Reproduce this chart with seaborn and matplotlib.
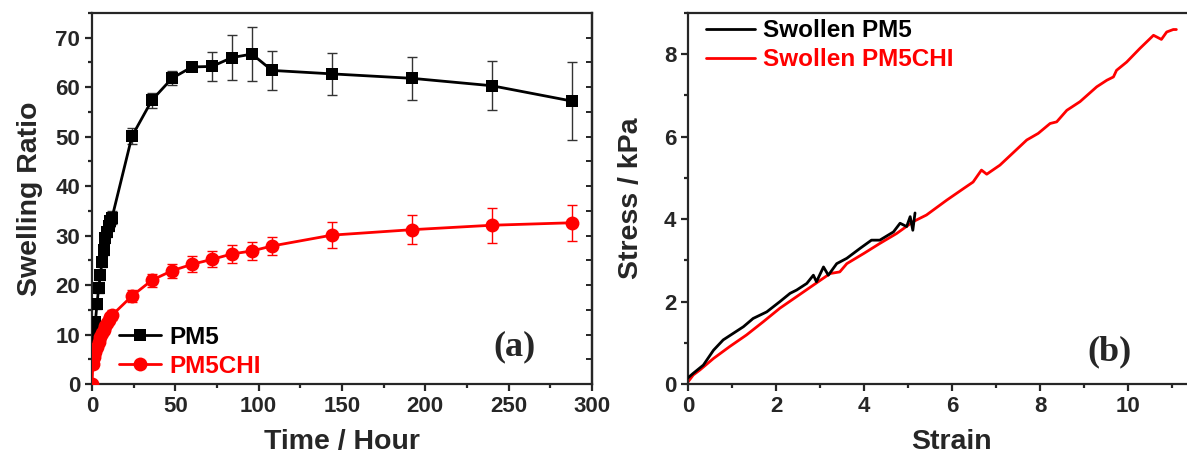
import numpy as np
import pandas as pd
import matplotlib
matplotlib.use("Agg")
import matplotlib.pyplot as plt
from matplotlib.ticker import MultipleLocator, NullFormatter
import seaborn as sns

# (a) swelling ratio vs time
pm5_time = [0.5, 1, 2, 3, 4, 5, 6, 7, 8, 9, 10, 11, 12,
            24, 36, 48, 60, 72, 84, 96, 108, 144, 192, 240, 288]
pm5_ratio = [8.0, 10.5, 12.5, 16.2, 19.4, 22.0, 24.6, 27.0, 29.5, 30.8, 32.0, 33.0, 33.6,
             50.1, 57.4, 61.8, 64.1, 64.2, 66.0, 66.7, 63.4, 62.7, 61.8, 60.3, 57.2]
pm5_err = [1.0, 1.0, 1.0, 1.0, 1.0, 1.0, 1.0, 1.0, 1.0, 1.0, 1.0, 1.2, 1.3,
           1.6, 1.5, 1.4, 0.6, 2.9, 4.5, 5.5, 4.0, 4.3, 4.4, 5.0, 7.8]

chi_time = [0, 0.5, 1, 2, 3, 4, 5, 6, 7, 8, 9, 10, 11, 12,
            24, 36, 48, 60, 72, 84, 96, 108, 144, 192, 240, 288]
chi_ratio = [0.0, 4.0, 5.5, 6.5, 7.5, 8.5, 9.5, 10.3, 11.0, 11.7, 12.3, 13.0, 13.5, 13.9,
             17.8, 21.0, 22.9, 24.2, 25.2, 26.3, 26.9, 27.9, 30.1, 31.2, 32.1, 32.6]
chi_err = [0.3, 0.8, 0.8, 0.8, 0.8, 0.8, 0.8, 0.8, 0.8, 0.8, 0.8, 0.9, 0.9, 1.0,
           1.3, 1.3, 1.4, 1.6, 1.6, 1.8, 1.8, 1.8, 2.7, 2.9, 3.5, 3.6]

# (b) stress-strain curves
pm5_strain = [0.0, 0.12, 0.35, 0.58, 0.80, 1.03, 1.26, 1.48, 1.79, 2.09, 2.32, 2.47,
              2.70, 2.85, 2.92, 3.08, 3.19, 3.38, 3.61, 3.91, 4.17, 4.36, 4.67, 4.82,
              4.97, 5.05, 5.11, 5.16]
pm5_stress = [0.15, 0.26, 0.46, 0.82, 1.07, 1.23, 1.39, 1.59, 1.75, 2.00, 2.20, 2.28,
              2.44, 2.64, 2.48, 2.84, 2.64, 2.92, 3.05, 3.29, 3.49, 3.49, 3.69, 3.90,
              3.82, 4.06, 3.73, 4.15]

chi_strain = [0.0, 0.12, 0.27, 0.58, 0.95, 1.33, 1.71, 2.09, 2.47, 2.85, 3.23, 3.45,
              3.61, 4.00, 4.36, 4.74, 5.12, 5.42, 5.88, 6.26, 6.48, 6.67, 6.79, 7.09,
              7.39, 7.70, 7.96, 8.23, 8.38, 8.61, 8.91, 9.29, 9.52, 9.67, 9.74, 9.97,
              10.27, 10.58, 10.76, 10.88, 11.03, 11.10]
chi_stress = [0.05, 0.22, 0.34, 0.62, 0.91, 1.19, 1.51, 1.84, 2.12, 2.40, 2.68, 2.72,
              2.92, 3.17, 3.41, 3.65, 3.94, 4.10, 4.46, 4.74, 4.90, 5.19, 5.09, 5.31,
              5.61, 5.92, 6.08, 6.32, 6.36, 6.64, 6.85, 7.21, 7.37, 7.45, 7.61, 7.81,
              8.14, 8.46, 8.36, 8.54, 8.60, 8.60]

sns.set_style("ticks")
plt.rcParams['font.family'] = ['Liberation Sans', 'DejaVu Sans']
plt.rcParams['font.weight'] = 'bold'
plt.rcParams['axes.labelweight'] = 'bold'

fig = plt.figure(figsize=(11.87, 4.62), dpi=100)
ax1 = fig.add_axes([0.0775, 0.1688, 0.4212, 0.803])
# right panel runs past the figure edge, as in the original figure
ax2 = fig.add_axes([0.5796, 0.1688, 0.4448, 0.803])

red = '#ff0000'

# panel (a)
ax1.errorbar(pm5_time, pm5_ratio, yerr=pm5_err, fmt='none', ecolor='#333333',
             elinewidth=1.0, capsize=3.5, capthick=1.0, zorder=2)
ax1.errorbar(chi_time, chi_ratio, yerr=chi_err, fmt='none', ecolor=red,
             elinewidth=1.0, capsize=3.5, capthick=1.0, zorder=2)
sns.lineplot(x=pm5_time, y=pm5_ratio, ax=ax1, color='black', marker='s', markersize=9,
             markeredgewidth=0, linewidth=2, sort=False, estimator=None, label='PM5', zorder=3)
sns.lineplot(x=chi_time, y=chi_ratio, ax=ax1, color=red, marker='o', markersize=10,
             markeredgewidth=0, linewidth=2, sort=False, estimator=None, label='PM5CHI', zorder=3)

ax1.set_xlim(0, 300)
ax1.set_ylim(0, 75)
ax1.xaxis.set_major_locator(MultipleLocator(50))
ax1.xaxis.set_minor_locator(MultipleLocator(25))
ax1.yaxis.set_major_locator(MultipleLocator(10))
ax1.yaxis.set_minor_locator(MultipleLocator(5))
ax1.set_xlabel('Time / Hour', fontsize=20.5, labelpad=9)
ax1.set_ylabel('Swelling Ratio', fontsize=20.5, labelpad=9)
leg1 = ax1.legend(loc='lower left', bbox_to_anchor=(0.035, -0.01), borderaxespad=0,
                  frameon=False, fontsize=17.5, handlelength=1.7, handletextpad=0.35,
                  labelspacing=0.25)
for txt, col in zip(leg1.get_texts(), ['black', red]):
    txt.set_color(col)
ax1.text(0.846, 0.10, '(a)', transform=ax1.transAxes, ha='center', va='center',
         fontsize=26, fontweight='bold', family='Liberation Serif')

# panel (b)
sns.lineplot(x=pm5_strain, y=pm5_stress, ax=ax2, color='black', linewidth=2,
             sort=False, estimator=None, label='Swollen PM5', zorder=3)
sns.lineplot(x=chi_strain, y=chi_stress, ax=ax2, color=red, linewidth=2,
             sort=False, estimator=None, label='Swollen PM5CHI', zorder=2)
ax2.set_xlim(0, 12)
ax2.set_ylim(0, 9)
ax2.xaxis.set_major_locator(MultipleLocator(2))
ax2.xaxis.set_minor_locator(MultipleLocator(1))
ax2.yaxis.set_major_locator(MultipleLocator(2))
ax2.yaxis.set_minor_locator(MultipleLocator(1))
ax2.set_xticks([0, 2, 4, 6, 8, 10])
ax2.set_xlabel('Strain', fontsize=20.5, labelpad=9)
ax2.set_ylabel('Stress / kPa', fontsize=20.5, labelpad=14)
leg2 = ax2.legend(loc='upper left', bbox_to_anchor=(0.016, 1.01), borderaxespad=0,
                  frameon=False, fontsize=17.5, handlelength=2.0, handletextpad=0.35,
                  labelspacing=0.25)
for txt, col in zip(leg2.get_texts(), ['black', red]):
    txt.set_color(col)
ax2.text(0.799, 0.086, '(b)', transform=ax2.transAxes, ha='center', va='center',
         fontsize=26, fontweight='bold', family='Liberation Serif')

for ax in (ax1, ax2):
    for sp in ax.spines.values():
        sp.set_visible(True)
        sp.set_linewidth(1.6)
    ax.tick_params(which='major', direction='out', length=5, width=1.6, labelsize=16)
    ax.tick_params(which='minor', direction='out', length=3, width=1.6)
    for lab in ax.get_xticklabels() + ax.get_yticklabels():
        lab.set_fontweight('bold')

# inward ticks on the right spine of panel (a)
sec = ax1.secondary_yaxis('right')
sec.yaxis.set_major_locator(MultipleLocator(10))
sec.yaxis.set_minor_locator(MultipleLocator(5))
sec.yaxis.set_major_formatter(NullFormatter())
sec.spines['right'].set_linewidth(1.6)
sec.tick_params(which='both', direction='in', length=4, width=1.4)

fig.savefig('out.png', dpi=100)
plt.close(fig)
